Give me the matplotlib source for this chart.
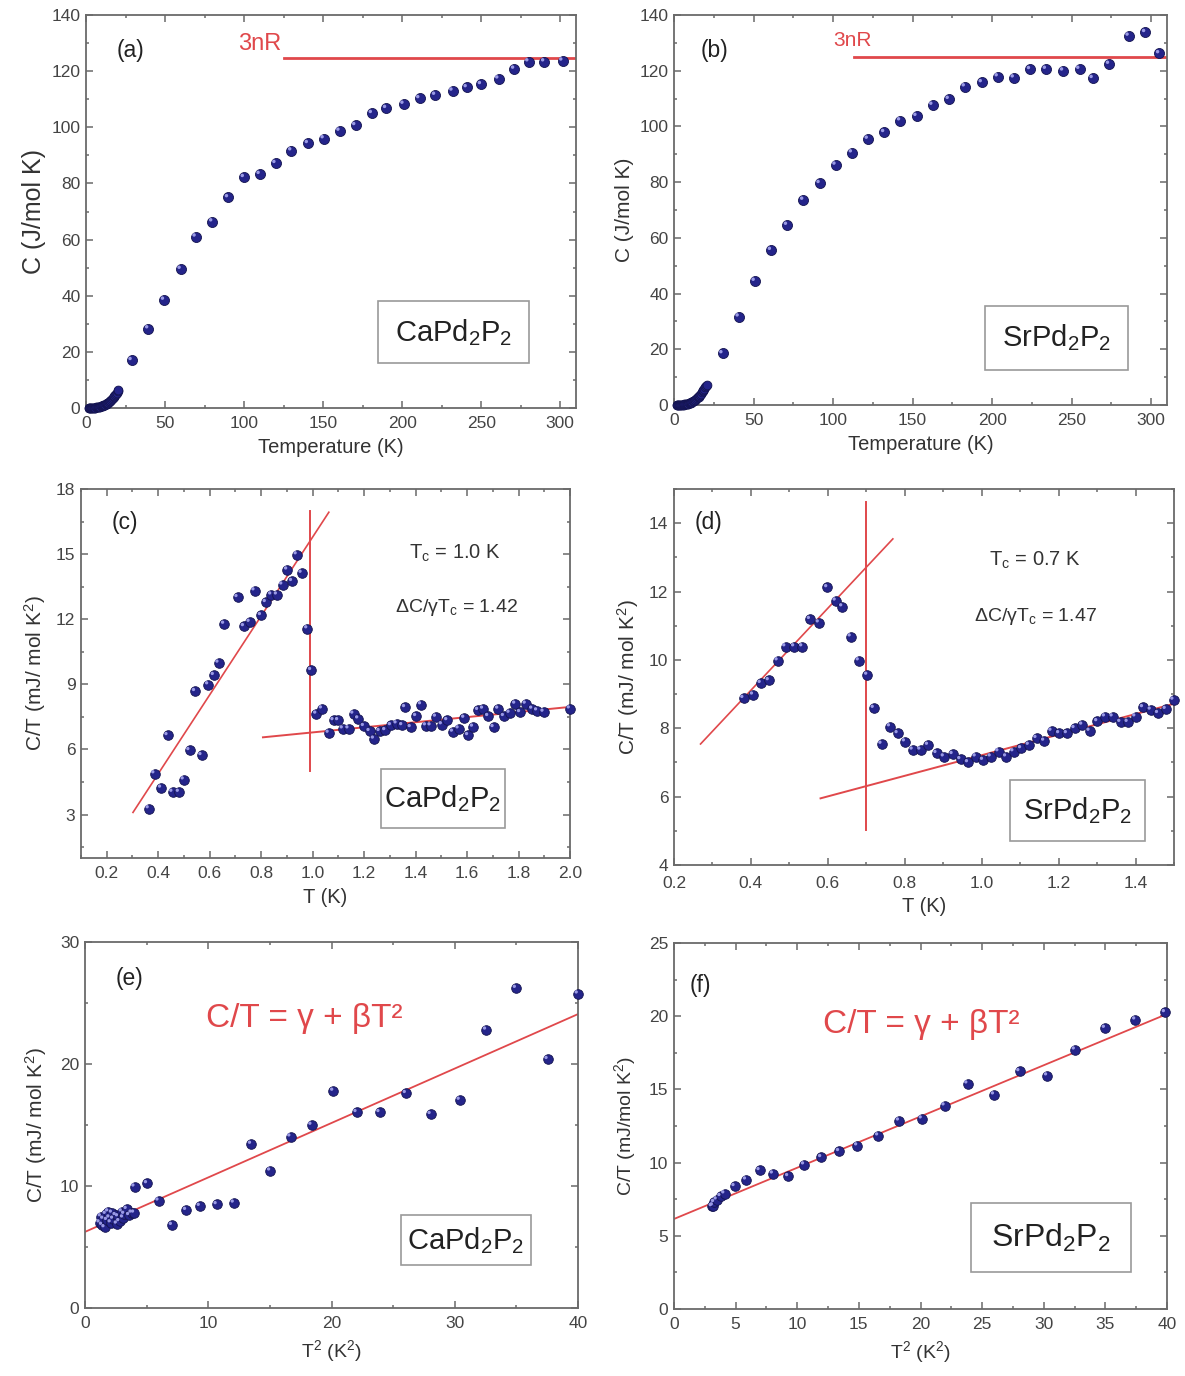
import matplotlib
matplotlib.use("Agg")
import matplotlib.pyplot as plt
import matplotlib.transforms as mtransforms
from matplotlib.ticker import MultipleLocator

plt.rcParams['font.family'] = ['Liberation Sans', 'DejaVu Sans']
plt.rcParams['mathtext.fontset'] = 'custom'
plt.rcParams['mathtext.rm'] = 'Liberation Sans'
plt.rcParams['mathtext.it'] = 'Liberation Sans:italic'
plt.rcParams['mathtext.bf'] = 'Liberation Sans:bold'

# ---------------- data ----------------
# (a) CaPd2P2 C(T)
a_T_low = [1.9, 2.2, 2.5, 2.8, 3.2, 3.6, 4.0, 4.5, 5.0, 5.5, 6.0, 6.5, 7.0, 7.5, 8.0, 8.5, 9.0, 9.5,
           10.0, 10.5, 11.0, 11.5, 12.0, 12.5, 13.0, 13.5, 14.0, 14.5, 15.0, 15.5, 16.0, 16.5, 17.0,
           17.5, 18.0, 18.5, 19.0, 19.5, 20.0, 20.5]
a_C_low = [0, 0, 0, 0, 0, 0, 0, 0, 0.1, 0.1, 0.1, 0.2, 0.2, 0.3, 0.3, 0.4, 0.5, 0.6,
           0.7, 0.8, 0.9, 1.0, 1.2, 1.3, 1.5, 1.7, 1.9, 2.1, 2.4, 2.6, 2.9, 3.2, 3.5,
           3.8, 4.2, 4.6, 5.0, 5.4, 5.9, 6.4]
a_T = [29, 39.5, 49.5, 60, 69.5, 80, 90, 100, 110, 120, 130, 140.5, 150.5, 160.5, 170.5, 181, 190,
       201, 211, 221, 232, 241, 250, 261, 271, 280, 290, 301.5]
a_C = [17.0, 28.3, 38.5, 49.5, 61.0, 66.4, 75.0, 82.2, 83.3, 87.2, 91.7, 94.3, 96.0, 98.7, 100.7,
       105.0, 106.8, 108.3, 110.3, 111.5, 113.0, 114.2, 115.3, 117.3, 120.8, 123.4, 123.4, 123.7]
a_3nR = 124.8
a_3nR_start = 125

# (b) SrPd2P2 C(T)
b_T_low = [1.9, 2.2, 2.5, 2.8, 3.2, 3.6, 4.0, 4.5, 5.0, 5.5, 6.0, 6.5, 7.0, 7.5, 8.0, 8.5, 9.0, 9.5,
           10.0, 10.5, 11.0, 11.5, 12.0, 12.5, 13.0, 13.5, 14.0, 14.5, 15.0, 15.5, 16.0, 16.5, 17.0,
           17.5, 18.0, 18.5, 19.0, 19.5, 20.0, 20.5]
b_C_low = [0, 0, 0, 0, 0, 0, 0, 0, 0.1, 0.1, 0.1, 0.2, 0.2, 0.3, 0.3, 0.4, 0.5, 0.6,
           0.7, 0.8, 0.9, 1.1, 1.3, 1.5, 1.7, 1.9, 2.1, 2.4, 2.7, 3.0, 3.3, 3.7, 4.1,
           4.5, 4.9, 5.3, 5.8, 6.3, 6.8, 7.2]
b_T = [30.6, 40.8, 50.9, 61.1, 71.2, 81.4, 91.7, 101.7, 112, 122, 132.3, 142.3, 152.6, 162.6, 172.9,
       183, 193.7, 203.7, 213.8, 224, 234, 244.8, 255, 263.4, 273.7, 286, 296.4, 305.2]
b_C = [18.5, 31.7, 44.5, 55.6, 64.6, 73.6, 79.6, 86.2, 90.6, 95.5, 97.9, 102.1, 103.7, 107.7, 109.8,
       114.3, 115.8, 117.9, 117.5, 120.5, 120.6, 120.0, 120.6, 117.3, 122.4, 132.5, 133.8, 126.2]
b_3nR = 124.8
b_3nR_start = 113

# (c) CaPd2P2 C/T vs T
c_T = [0.364, 0.386, 0.412, 0.437, 0.456, 0.481, 0.500, 0.522, 0.544, 0.569, 0.595, 0.617, 0.635,
       0.657, 0.709, 0.734, 0.756, 0.775, 0.800, 0.819, 0.840, 0.862, 0.883, 0.902, 0.921, 0.939,
       0.958, 0.980, 0.995, 1.015, 1.037, 1.063, 1.082, 1.100, 1.118, 1.140, 1.159, 1.178, 1.200,
       1.222, 1.239, 1.261, 1.283, 1.305, 1.327, 1.349, 1.360, 1.382, 1.403, 1.422, 1.441, 1.459,
       1.480, 1.503, 1.524, 1.546, 1.568, 1.590, 1.605, 1.624, 1.644, 1.663, 1.683, 1.704, 1.722,
       1.744, 1.766, 1.788, 1.807, 1.829, 1.854, 1.873, 1.898, 2.000]
c_CT = [3.28, 4.89, 4.23, 6.65, 4.04, 4.04, 4.61, 5.96, 8.68, 5.73, 8.99, 9.42, 9.99,
        11.78, 13.01, 11.67, 11.87, 13.32, 12.18, 12.78, 13.13, 13.13, 13.59, 14.28, 13.75, 14.98,
        14.13, 11.57, 9.65, 7.64, 7.88, 6.76, 7.34, 7.34, 6.96, 6.96, 7.64, 7.42, 7.07,
        6.84, 6.49, 6.84, 6.88, 7.11, 7.19, 7.11, 7.94, 7.02, 7.53, 8.07, 7.10, 7.10,
        7.50, 7.15, 7.34, 6.81, 6.96, 7.45, 6.65, 7.04, 7.81, 7.87, 7.53, 7.02, 7.87,
        7.53, 7.68, 8.10, 7.71, 8.10, 7.87, 7.79, 7.73, 7.88]
c_rise_T = [0.302, 1.063]
c_rise_CT = [3.1, 16.93]
c_Tc = 0.99
c_vert_CT = [5.0, 16.97]
c_norm_T = [0.807, 2.0]
c_norm_CT = [6.56, 7.96]

# (d) SrPd2P2 C/T vs T
d_T = [0.381, 0.406, 0.426, 0.447, 0.470, 0.490, 0.513, 0.534, 0.554, 0.577, 0.599, 0.621, 0.638,
       0.660, 0.681, 0.703, 0.720, 0.740, 0.762, 0.782, 0.801, 0.821, 0.841, 0.861, 0.883, 0.902,
       0.925, 0.945, 0.965, 0.985, 1.004, 1.024, 1.044, 1.064, 1.083, 1.103, 1.123, 1.143, 1.163,
       1.182, 1.202, 1.222, 1.242, 1.262, 1.281, 1.301, 1.321, 1.341, 1.361, 1.380, 1.400, 1.420,
       1.440, 1.459, 1.479, 1.499]
d_CT = [8.88, 8.98, 9.32, 9.40, 9.98, 10.39, 10.39, 10.39, 11.19, 11.09, 12.12, 11.73, 11.56,
        10.68, 9.98, 9.56, 8.59, 7.54, 8.05, 7.85, 7.61, 7.37, 7.37, 7.51, 7.27, 7.17,
        7.24, 7.09, 7.00, 7.17, 7.07, 7.17, 7.32, 7.17, 7.32, 7.41, 7.51, 7.71, 7.63,
        7.92, 7.85, 7.85, 8.00, 8.10, 7.92, 8.20, 8.34, 8.34, 8.18, 8.18, 8.34, 8.61,
        8.54, 8.44, 8.56, 8.83]
d_rise_T = [0.269, 0.769]
d_rise_CT = [7.54, 13.54]
d_Tc = 0.698
d_vert_CT = [5.02, 14.63]
d_norm_T = [0.581, 1.504]
d_norm_CT = [5.95, 8.73]

# (e) CaPd2P2 C/T vs T^2
e_T2 = [1.2, 1.3, 1.4, 1.5, 1.6, 1.7, 1.8, 1.9, 2.0, 2.1, 2.2, 2.3, 2.5, 2.6, 2.7, 2.8, 3.0, 3.1,
        3.2, 3.4, 3.6, 3.8, 4.0, 4.03, 5.05, 5.98, 7.07, 8.22, 9.33, 10.7, 12.09, 13.49, 15.04,
        16.68, 18.39, 20.16, 22.05, 23.91, 26.05, 28.06, 30.42, 32.56, 34.98, 37.55, 40.0]
e_CT = [7.0, 7.5, 6.8, 7.3, 6.6, 7.7, 7.2, 7.9, 7.4, 7.0, 7.8, 7.3, 7.6, 6.9, 7.5, 7.1, 7.9, 7.4,
        7.7, 8.1, 7.6, 7.8, 7.8, 9.94, 10.21, 8.79, 6.79, 8.02, 8.35, 8.49, 8.62, 13.44, 11.25,
        14.04, 15.0, 17.79, 16.04, 16.04, 17.6, 15.88, 17.05, 22.8, 26.22, 20.39, 25.76]
e_fit_T2 = [0, 40]
e_fit_CT = [6.24, 24.09]

# (f) SrPd2P2 C/T vs T^2
f_T2 = [3.08, 3.17, 3.27, 3.48, 3.79, 4.10, 4.93, 5.86, 6.96, 8.04, 9.28, 10.57, 11.96, 13.41, 14.88,
        16.58, 18.27, 20.12, 21.97, 23.82, 25.98, 28.04, 30.29, 32.54, 34.98, 37.44, 39.85]
f_CT = [7.01, 7.06, 7.29, 7.47, 7.70, 7.88, 8.38, 8.83, 9.47, 9.24, 9.06, 9.86, 10.36, 10.77, 11.16,
        11.84, 12.86, 13.00, 13.89, 15.39, 14.64, 16.23, 15.94, 17.71, 19.19, 19.76, 20.26]
f_fit_T2 = [0, 40]
f_fit_CT = [6.15, 20.15]

# ---------------- style ----------------
W, H = 1185, 1376
fig = plt.figure(figsize=(W / 100, H / 100), dpi=100)

RED = '#e0484b'
NAVY = '#24248a'
FRAME = '#6a6a6a'
TXT = '#444444'
LBL = '#333333'


def ax_at(l, r, t, b):
    return fig.add_axes([l / W, 1 - b / H, (r - l) / W, (b - t) / H])


def style(ax, xmaj, xmin, ymaj, ymin, xpad=6):
    for s in ax.spines.values():
        s.set_color(FRAME)
        s.set_linewidth(1.3)
    ax.xaxis.set_major_locator(MultipleLocator(xmaj))
    ax.xaxis.set_minor_locator(MultipleLocator(xmin))
    ax.yaxis.set_major_locator(MultipleLocator(ymaj))
    ax.yaxis.set_minor_locator(MultipleLocator(ymin))
    ax.tick_params(which='both', direction='in', top=True, right=True, colors=FRAME,
                   labelcolor=TXT, labelsize=12.5, width=1.1)
    ax.tick_params(which='major', length=5)
    ax.tick_params(which='minor', length=2.5)
    ax.tick_params(axis='x', pad=xpad)
    ax.tick_params(axis='y', pad=4)


def balls(ax, x, y, s=52, shine=True):
    ax.scatter(x, y, s=s, color=NAVY, edgecolors='#14144f', linewidths=0.6, zorder=3, clip_on=False)
    if shine:
        off = mtransforms.offset_copy(ax.transData, fig=fig, x=-1.3, y=1.3, units='points')
        ax.scatter(x, y, s=s * 0.12, color='#9a9ae6', edgecolors='none', zorder=4, transform=off,
                   clip_on=False)


def label_box(ax, x0, y0, x1, y1, text, fs=21):
    ax.add_patch(plt.Rectangle((x0, y0), x1 - x0, y1 - y0, transform=ax.transAxes,
                               facecolor='white', edgecolor='#9a9a9a', lw=1.2, zorder=2))
    ax.text((x0 + x1) / 2, (y0 + y1) / 2, text, transform=ax.transAxes, ha='center', va='center',
            fontsize=fs, color='#222222', zorder=5)


def panel_tag(ax, x, y, t):
    ax.text(x, y, t, transform=ax.transAxes, fontsize=16.5, color='#222222', ha='center',
            va='center')


# (a)
ax = ax_at(86, 576, 15, 408)
style(ax, 50, 25, 20, 10)
ax.set_xlim(0, 310)
ax.set_ylim(0, 140)
balls(ax, a_T_low, a_C_low, s=40, shine=False)
balls(ax, a_T, a_C)
ax.plot([a_3nR_start, 310], [a_3nR, a_3nR], color=RED, lw=2)
ax.text(110, 129.5, '3nR', color=RED, fontsize=17, ha='center', va='center')
panel_tag(ax, 0.09, 0.91, '(a)')
label_box(ax, 0.595, 0.114, 0.905, 0.271, r'CaPd$_2$P$_2$')
ax.set_xlabel('Temperature (K)', fontsize=14.5, color=LBL, labelpad=5)
ax.set_ylabel('C (J/mol K)', fontsize=18, color=LBL, labelpad=4)

# (b)
ax = ax_at(674, 1167, 15, 405)
style(ax, 50, 25, 20, 10)
ax.set_xlim(0, 310)
ax.set_ylim(0, 140)
balls(ax, b_T_low, b_C_low, s=40, shine=False)
balls(ax, b_T, b_C)
ax.plot([b_3nR_start, 310], [b_3nR, b_3nR], color=RED, lw=2)
ax.text(112, 131, '3nR', color=RED, fontsize=15, ha='center', va='center')
panel_tag(ax, 0.083, 0.91, '(b)')
label_box(ax, 0.63, 0.09, 0.92, 0.254, r'SrPd$_2$P$_2$')
ax.set_xlabel('Temperature (K)', fontsize=14.5, color=LBL, labelpad=5)
ax.set_ylabel('C (J/mol K)', fontsize=15, color=LBL, labelpad=4)

# (c)
ax = ax_at(81, 570, 489, 858)
style(ax, 0.2, 0.1, 3, 1.5)
ax.set_xlim(0.1, 2.0)
ax.set_ylim(1, 18)
ax.plot(c_rise_T, c_rise_CT, color=RED, lw=1.2, zorder=2)
ax.plot([c_Tc, c_Tc], c_vert_CT, color=RED, lw=1.4, zorder=2)
ax.plot(c_norm_T, c_norm_CT, color=RED, lw=1.4, zorder=2)
balls(ax, c_T, c_CT, s=48)
panel_tag(ax, 0.09, 0.908, '(c)')
ax.text(1.553, 15.05, r'T$_\mathrm{c}$ = 1.0 K', fontsize=14.5, color=LBL, ha='center',
        va='center')
ax.text(1.56, 12.56, r'ΔC/γT$_\mathrm{c}$ = 1.42', fontsize=14, color=LBL,
        ha='center', va='center')
label_box(ax, 0.6135, 0.080, 0.8675, 0.2425, r'CaPd$_2$P$_2$')
ax.set_xlabel('T (K)', fontsize=14.5, color=LBL, labelpad=5)
ax.set_ylabel(r'C/T (mJ/ mol K$^2$)', fontsize=15, color=LBL, labelpad=6)

# (d)
ax = ax_at(674, 1174, 489, 865)
style(ax, 0.2, 0.1, 2, 1, xpad=8)
ax.set_xlim(0.2, 1.5)
ax.set_ylim(4, 15)
ax.plot(d_rise_T, d_rise_CT, color=RED, lw=1.2, zorder=2)
ax.plot([d_Tc, d_Tc], d_vert_CT, color=RED, lw=1.4, zorder=2)
ax.plot(d_norm_T, d_norm_CT, color=RED, lw=1.4, zorder=2)
balls(ax, d_T, d_CT, s=48)
panel_tag(ax, 0.068, 0.912, '(d)')
ax.text(1.139, 12.92, r'T$_\mathrm{c}$ = 0.7 K', fontsize=14.5, color=LBL, ha='center',
        va='center')
ax.text(1.139, 11.26, r'ΔC/γT$_\mathrm{c}$ = 1.47', fontsize=14, color=LBL,
        ha='center', va='center')
label_box(ax, 0.672, 0.064, 0.942, 0.226, r'SrPd$_2$P$_2$')
ax.set_xlabel('T (K)', fontsize=14.5, color=LBL, labelpad=4)
ax.set_ylabel(r'C/T (mJ/ mol K$^2$)', fontsize=15, color=LBL, labelpad=6)

# (e)
ax = ax_at(85, 578, 942, 1308)
style(ax, 10, 5, 10, 5)
ax.set_xlim(0, 40)
ax.set_ylim(0, 30)
ax.plot(e_fit_T2, e_fit_CT, color=RED, lw=1.3, zorder=2)
balls(ax, e_T2, e_CT, s=48)
panel_tag(ax, 0.091, 0.90, '(e)')
ax.text(17.8, 23.7, 'C/T = γ + βT²', fontsize=24, color=RED, ha='center', va='center')
label_box(ax, 0.64, 0.117, 0.905, 0.254, r'CaPd$_2$P$_2$')
ax.set_xlabel(r'T$^2$ (K$^2$)', fontsize=14, color=LBL, labelpad=5)
ax.set_ylabel(r'C/T (mJ/ mol K$^2$)', fontsize=15, color=LBL, labelpad=8)

# (f)
ax = ax_at(674, 1167, 943, 1309)
style(ax, 5, 2.5, 5, 2.5)
ax.set_xlim(0, 40)
ax.set_ylim(0, 25)
ax.plot(f_fit_T2, f_fit_CT, color=RED, lw=1.3, zorder=2)
balls(ax, f_T2, f_CT, s=48)
panel_tag(ax, 0.053, 0.885, '(f)')
ax.text(20.1, 19.4, 'C/T = γ + βT²', fontsize=24, color=RED, ha='center', va='center')
label_box(ax, 0.603, 0.10, 0.927, 0.29, r'SrPd$_2$P$_2$', fs=23)
ax.set_xlabel(r'T$^2$ (K$^2$)', fontsize=14, color=LBL, labelpad=5)
ax.set_ylabel(r'C/T (mJ/mol K$^2$)', fontsize=14, color=LBL, labelpad=8)

fig.savefig('out.png', dpi=100, facecolor='white')
